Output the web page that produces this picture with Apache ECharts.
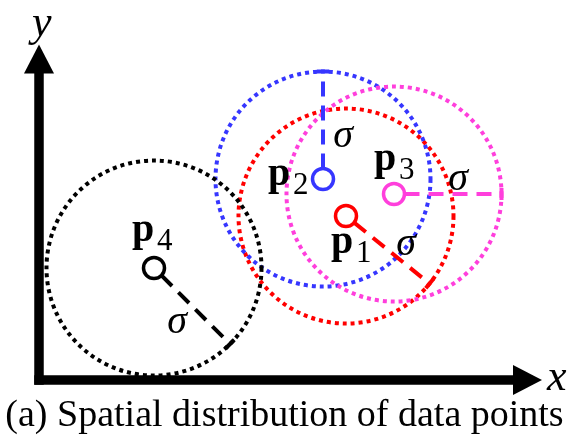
<!DOCTYPE html>
<html>
<head>
<meta charset="utf-8">
<script src="https://cdn.jsdelivr.net/npm/echarts@6/dist/echarts.min.js"></script>
<style>
  html, body { margin: 0; padding: 0; background: #fff; }
  #main { width: 569px; height: 435px; }
</style>
</head>
<body>
<div id="main"></div>
<script>
// data points p1..p4, in axis units (1 unit = 10px on both axes)
const pointNames = ['1', '2', '3', '4'];
const pointX = [30.7, 28.4, 35.5, 11.5];
const pointY = [16.4, 20.1, 18.6, 11.2];
const sigma = 10.75;
// direction of the sigma radius in degrees (0 = +x, 90 = +y)
const sigmaAngles = [-39, 90, 0, -45];
const xMax = 48.85;
const yMax = 32.1;
const caption = '(a) Spatial distribution of data points';

const colors = ['#ff0000', '#3636ff', '#ff3fdc', '#000000'];
// label offsets from the marker centre, px
const pLabelPos = [[-15, 39], [-55, 8], [-20, -22], [-22, -25]]; // left, baseline
const sigmaPos = [[60, 28], [20, -43], [64, -15], [23, 54]];     // centre

const serif = '"Liberation Serif", "DejaVu Serif", serif';

function renderPoint(params, api) {
  const i = params.dataIndex;
  const c = api.coord([api.value(0), api.value(1)]);
  const r = api.size([api.value(2), 0])[0];
  const a = api.value(3) * Math.PI / 180;
  const dx = Math.cos(a), dy = -Math.sin(a);
  const color = colors[i];
  const mr = 10.5; // marker radius
  const start = [c[0] + dx * mr, c[1] + dy * mr];
  const end = [c[0] + dx * r, c[1] + dy * r];
  const cap = 6;
  const pl = pLabelPos[i], sp = sigmaPos[i];
  return {
    type: 'group',
    children: [
      // dotted sigma circle
      {
        type: 'circle', z2: 0,
        shape: { cx: c[0], cy: c[1], r: r },
        style: { fill: null, stroke: color, lineWidth: 4, lineDash: [4, 4] }
      },
      // dashed radius
      {
        type: 'line', z2: 1,
        shape: { x1: start[0], y1: start[1], x2: end[0], y2: end[1] },
        style: { stroke: color, lineWidth: 4, lineDash: [15, 9] }
      },
      // end tick
      {
        type: 'line', z2: 1,
        shape: { x1: end[0] - dy * cap, y1: end[1] + dx * cap, x2: end[0] + dy * cap, y2: end[1] - dx * cap },
        style: { stroke: color, lineWidth: 4 }
      },
      // hollow marker
      {
        type: 'circle', z2: 2,
        shape: { cx: c[0], cy: c[1], r: mr },
        style: { fill: '#fff', stroke: color, lineWidth: 3.5 }
      },
      // bold p
      {
        type: 'text', z2: 3,
        x: c[0] + pl[0], y: c[1] + pl[1] - 12,
        style: { text: 'p', fontFamily: serif, fontWeight: 'bold', fontSize: 40, fill: '#000', align: 'left', verticalAlign: 'middle' }
      },
      // subscript
      {
        type: 'text', z2: 3,
        x: c[0] + pl[0] + 25, y: c[1] + pl[1] - 1,
        style: { text: pointNames[i], fontFamily: serif, fontSize: 31, fill: '#000', align: 'left', verticalAlign: 'middle' }
      },
      // sigma
      {
        type: 'text', z2: 3,
        x: c[0] + sp[0], y: c[1] + sp[1],
        style: { text: 'σ', fontFamily: serif, fontStyle: 'italic', fontSize: 40, fill: '#000', align: 'center', verticalAlign: 'middle' }
      }
    ]
  };
}

const axisLine = {
  show: true,
  symbol: ['none', 'triangle'],
  symbolSize: [30, 29],
  lineStyle: { color: '#000', width: 9.5, cap: 'square' }
};

const chart = echarts.init(document.getElementById('main'));
chart.setOption({
  animation: false,
  grid: { left: 39, top: 59, width: 488.5, height: 321 },
  xAxis: {
    type: 'value', min: 0, max: xMax,
    axisLine: axisLine,
    axisTick: { show: false }, axisLabel: { show: false }, splitLine: { show: false }
  },
  yAxis: {
    type: 'value', min: 0, max: yMax,
    axisLine: axisLine,
    axisTick: { show: false }, axisLabel: { show: false }, splitLine: { show: false }
  },
  graphic: [
    {
      type: 'text', left: 32, top: 2,
      style: { text: 'y', fontFamily: serif, fontStyle: 'italic', fontSize: 44, fill: '#000' }
    },
    {
      type: 'text', left: 547, top: 356,
      style: { text: 'x', fontFamily: serif, fontStyle: 'italic', fontSize: 44, fill: '#000' }
    },
    {
      type: 'text', left: 'center', top: 397,
      style: { text: caption, fontFamily: serif, fontSize: 38, fill: '#000' }
    }
  ],
  series: [{
    type: 'custom',
    renderItem: renderPoint,
    clip: false,
    data: pointX.map((x, i) => [x, pointY[i], sigma, sigmaAngles[i]])
  }]
});
</script>
</body>
</html>
